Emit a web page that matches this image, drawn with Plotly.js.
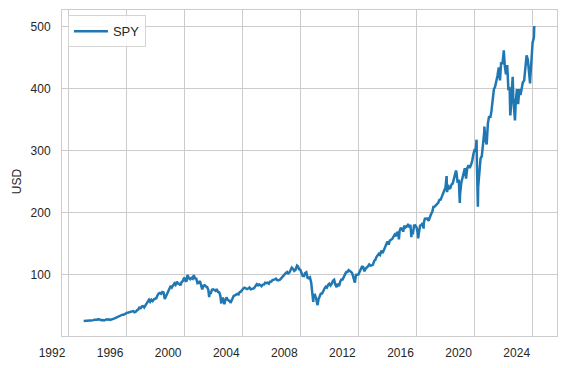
<!DOCTYPE html>
<html>
<head>
<meta charset="utf-8">
<script src="https://cdn.plot.ly/plotly-3.0.1.min.js"></script>
<style>html,body{margin:0;padding:0;background:#fff;}#chart{width:566px;height:368px;}</style>
</head>
<body>
<div id="chart"></div>
<script>
// SPY adjusted close (USD) (month-end values plus notable highs/lows)
const dates = [
"1993-01-29","1993-02-26","1993-03-31","1993-04-30","1993-05-28","1993-06-30","1993-07-30","1993-08-31","1993-09-30","1993-10-29","1993-11-30","1993-12-31",
"1994-01-31","1994-02-28","1994-03-31","1994-04-29","1994-05-31","1994-06-30","1994-07-29","1994-08-31","1994-09-30","1994-10-31","1994-11-30","1994-12-30",
"1995-01-31","1995-02-28","1995-03-31","1995-04-28","1995-05-31","1995-06-30","1995-07-31","1995-08-31","1995-09-29","1995-10-31","1995-11-30","1995-12-29",
"1996-01-31","1996-02-29","1996-03-29","1996-04-30","1996-05-31","1996-06-28","1996-07-31","1996-08-30","1996-09-30","1996-10-31","1996-11-29","1996-12-31",
"1997-01-31","1997-02-28","1997-03-31","1997-04-30","1997-05-30","1997-06-30","1997-07-31","1997-08-29","1997-09-30","1997-10-31","1997-11-28","1997-12-31",
"1998-01-30","1998-02-27","1998-03-31","1998-04-30","1998-05-29","1998-06-30","1998-07-31","1998-08-31","1998-09-30","1998-10-30","1998-11-30","1998-12-31",
"1999-01-29","1999-02-26","1999-03-31","1999-04-30","1999-05-28","1999-06-30","1999-07-30","1999-08-31","1999-09-30","1999-10-29","1999-11-30","1999-12-31",
"2000-01-31","2000-02-29","2000-03-24","2000-03-31","2000-04-28","2000-05-31","2000-06-30","2000-07-31","2000-08-31","2000-09-29","2000-10-31","2000-11-30","2000-12-29",
"2001-01-31","2001-02-28","2001-03-30","2001-04-30","2001-05-31","2001-06-29","2001-07-31","2001-08-31","2001-09-21","2001-09-28","2001-10-31","2001-11-30","2001-12-31",
"2002-01-31","2002-02-28","2002-03-28","2002-04-30","2002-05-31","2002-06-28","2002-07-23","2002-07-31","2002-08-30","2002-09-30","2002-10-09","2002-10-31","2002-11-29","2002-12-31",
"2003-01-31","2003-02-28","2003-03-11","2003-03-31","2003-04-30","2003-05-30","2003-06-30","2003-07-31","2003-08-29","2003-09-30","2003-10-31","2003-11-28","2003-12-31",
"2004-01-30","2004-02-27","2004-03-31","2004-04-30","2004-05-28","2004-06-30","2004-07-30","2004-08-31","2004-09-30","2004-10-29","2004-11-30","2004-12-31",
"2005-01-31","2005-02-28","2005-03-31","2005-04-29","2005-05-31","2005-06-30","2005-07-29","2005-08-31","2005-09-30","2005-10-31","2005-11-30","2005-12-30",
"2006-01-31","2006-02-28","2006-03-31","2006-04-28","2006-05-31","2006-06-30","2006-07-31","2006-08-31","2006-09-29","2006-10-31","2006-11-30","2006-12-29",
"2007-01-31","2007-02-28","2007-03-30","2007-04-30","2007-05-31","2007-06-29","2007-07-31","2007-08-31","2007-09-28","2007-10-09","2007-10-31","2007-11-30","2007-12-31",
"2008-01-31","2008-02-29","2008-03-31","2008-04-30","2008-05-30","2008-06-30","2008-07-31","2008-08-29","2008-09-30","2008-10-27","2008-10-31","2008-11-20","2008-11-28","2008-12-31",
"2009-01-30","2009-02-27","2009-03-09","2009-03-31","2009-04-30","2009-05-29","2009-06-30","2009-07-31","2009-08-31","2009-09-30","2009-10-30","2009-11-30","2009-12-31",
"2010-01-29","2010-02-26","2010-03-31","2010-04-30","2010-05-28","2010-06-30","2010-07-30","2010-08-31","2010-09-30","2010-10-29","2010-11-30","2010-12-31",
"2011-01-31","2011-02-28","2011-03-31","2011-04-29","2011-05-31","2011-06-30","2011-07-29","2011-08-31","2011-09-30","2011-10-03","2011-10-31","2011-11-30","2011-12-30",
"2012-01-31","2012-02-29","2012-03-30","2012-04-30","2012-05-31","2012-06-29","2012-07-31","2012-08-31","2012-09-28","2012-10-31","2012-11-30","2012-12-31",
"2013-01-31","2013-02-28","2013-03-28","2013-04-30","2013-05-31","2013-06-28","2013-07-31","2013-08-30","2013-09-30","2013-10-31","2013-11-29","2013-12-31",
"2014-01-31","2014-02-28","2014-03-31","2014-04-30","2014-05-30","2014-06-30","2014-07-31","2014-08-29","2014-09-30","2014-10-15","2014-10-31","2014-11-28","2014-12-31",
"2015-01-30","2015-02-27","2015-03-31","2015-04-30","2015-05-29","2015-06-30","2015-07-31","2015-08-25","2015-08-31","2015-09-30","2015-10-30","2015-11-30","2015-12-31",
"2016-01-29","2016-02-11","2016-02-29","2016-03-31","2016-04-29","2016-05-31","2016-06-27","2016-06-30","2016-07-29","2016-08-31","2016-09-30","2016-10-31","2016-11-30","2016-12-30",
"2017-01-31","2017-02-28","2017-03-31","2017-04-28","2017-05-31","2017-06-30","2017-07-31","2017-08-31","2017-09-29","2017-10-31","2017-11-30","2017-12-29",
"2018-01-26","2018-01-31","2018-02-08","2018-02-28","2018-03-29","2018-04-30","2018-05-31","2018-06-29","2018-07-31","2018-08-31","2018-09-20","2018-09-28","2018-10-31","2018-11-30","2018-12-24","2018-12-31",
"2019-01-31","2019-02-28","2019-03-29","2019-04-30","2019-05-31","2019-06-28","2019-07-31","2019-08-30","2019-09-30","2019-10-31","2019-11-29","2019-12-31",
"2020-01-31","2020-02-19","2020-02-28","2020-03-23","2020-03-31","2020-04-30","2020-05-29","2020-06-30","2020-07-31","2020-08-31","2020-09-02","2020-09-30","2020-10-30","2020-11-30","2020-12-31",
"2021-01-29","2021-02-26","2021-03-31","2021-04-30","2021-05-28","2021-06-30","2021-07-30","2021-08-31","2021-09-30","2021-10-29","2021-11-30","2021-12-31",
"2022-01-03","2022-01-31","2022-02-28","2022-03-31","2022-04-29","2022-05-31","2022-06-16","2022-06-30","2022-07-29","2022-08-16","2022-08-31","2022-09-30","2022-10-12","2022-10-31","2022-11-30","2022-12-30",
"2023-01-31","2023-02-28","2023-03-31","2023-04-28","2023-05-31","2023-06-30","2023-07-31","2023-08-31","2023-09-29","2023-10-27","2023-10-31","2023-11-30","2023-12-29",
"2024-01-31","2024-02-09"
];
const spy = [
25.7,26.0,26.6,25.9,26.6,26.6,26.5,27.5,27.3,27.8,27.5,27.9,
28.8,28.0,26.8,27.1,27.5,26.8,27.6,28.7,28.0,28.6,27.5,27.9,
28.7,29.7,30.6,31.5,32.6,33.4,34.5,34.6,36.0,35.8,37.4,38.1,
39.4,39.7,40.1,40.6,41.6,41.8,39.9,40.7,43.0,44.1,47.4,46.4,
49.4,49.7,47.6,50.5,53.5,55.9,60.3,56.9,60.1,58.0,60.7,61.7,
62.5,66.8,70.3,71.0,69.7,72.6,71.8,61.4,65.3,70.7,74.8,79.2,
82.5,79.9,83.1,86.4,84.2,89.0,86.2,85.7,83.4,88.7,90.4,95.8,
91.1,89.2,99.9,98.0,95.1,93.1,95.4,94.0,99.7,94.5,94.2,86.7,87.1,
90.3,82.1,76.9,82.8,83.4,81.4,80.7,75.6,64.5,69.5,70.8,76.2,76.9,
75.8,74.4,77.2,72.6,72.0,66.9,54.0,61.7,62.1,55.4,52.8,60.2,63.8,60.0,
58.4,57.5,54.9,58.1,62.9,66.2,67.1,68.1,69.5,68.7,72.6,73.2,77.1,
78.5,79.6,78.4,77.2,78.2,79.7,77.0,77.3,78.1,79.3,82.5,85.3,
83.3,85.0,83.5,81.9,84.5,84.6,87.6,86.8,87.5,86.1,89.2,89.3,
91.7,91.8,93.0,94.2,91.5,91.6,92.1,94.1,96.6,99.8,101.5,103.0,
104.7,102.6,103.7,108.4,112.0,110.1,106.7,108.2,112.2,115.2,114.0,109.2,108.4,
101.9,98.5,98.1,103.0,104.3,95.5,94.7,96.1,87.5,63.8,72.9,56.7,67.5,68.1,
62.4,55.7,51.4,60.6,66.3,70.0,70.1,75.5,78.2,81.1,79.7,84.4,86.0,
83.0,85.5,90.6,92.2,84.8,80.3,85.9,82.0,89.2,92.8,92.7,98.9,
101.3,104.7,104.7,108.0,106.7,104.9,102.7,97.0,90.2,87.8,100.1,99.8,100.7,
105.4,109.8,113.4,112.8,105.9,110.2,111.7,114.2,117.1,115.0,115.4,116.5,
122.7,124.2,128.8,131.5,134.4,132.5,139.2,135.2,139.4,145.8,150.1,154.0,
148.9,155.5,156.7,158.1,161.6,164.9,162.6,169.1,166.7,157.5,170.7,175.1,174.8,
169.8,179.3,176.6,178.3,180.6,177.0,180.9,160.8,169.8,165.5,179.7,180.0,177.0,
168.4,158.9,167.9,179.4,180.1,183.3,174.7,183.7,190.6,190.6,190.8,187.3,194.2,197.9,
201.9,209.7,210.0,212.2,215.1,216.4,221.1,221.5,226.2,231.5,238.3,240.9,
259.4,255.0,233.3,245.3,239.3,240.2,245.9,247.4,256.9,264.9,268.1,266.6,248.4,253.4,216.1,230.4,
248.6,256.9,261.0,272.0,255.2,271.9,276.6,272.3,276.9,283.3,294.2,301.6,
302.1,318.0,278.5,209.8,242.5,273.9,287.3,291.4,308.9,330.8,339.1,317.8,310.2,344.3,355.9,
353.1,363.2,378.9,399.4,402.8,410.9,421.4,434.4,413.3,442.7,439.6,458.8,
462.0,435.5,423.1,438.1,400.5,401.8,357.1,367.4,401.7,419.4,385.7,349.3,349.1,378.1,399.5,375.2,
399.6,389.9,403.7,410.5,413.3,438.9,453.7,447.2,424.9,408.6,416.1,455.0,474.4,
482.4,501.0
];
const seriesName = "SPY";
const xTickVals = ["1992-01-01","1996-01-01","2000-01-01","2004-01-01","2008-01-01","2012-01-01","2016-01-01","2020-01-01","2024-01-01"];
const xTickText = ["1992","1996","2000","2004","2008","2012","2016","2020","2024"];
const yTickVals = [100,200,300,400,500];
const yTickText = ["100","200","300","400","500"];
const yTitle = "USD";

const trace = {
  x: dates, y: spy, type: "scatter", mode: "lines", name: seriesName,
  line: {color: "#1f77b4", width: 2.5}
};

const layout = {
  width: 566, height: 368,
  margin: {l: 62, r: 9, t: 10, b: 32, pad: 0},
  paper_bgcolor: "#ffffff", plot_bgcolor: "#ffffff",
  font: {family: "Liberation Sans, Arial, sans-serif", size: 12, color: "#262626"},
  showlegend: true,
  legend: {
    x: 0.012, y: 0.984, xanchor: "left", yanchor: "top",
    bgcolor: "rgba(255,255,255,0.85)", bordercolor: "#d4d4d4", borderwidth: 1,
    itemwidth: 34,
    font: {size: 13, color: "#262626"}
  },
  xaxis: {
    type: "date", range: ["1991-08-03", "2025-09-03"],
    tickmode: "array", tickvals: xTickVals, ticktext: xTickText,
    showgrid: true, gridcolor: "#cccccc", gridwidth: 1,
    showline: true, linecolor: "#cccccc", linewidth: 1, mirror: true,
    zeroline: false, ticks: "", ticklabelshift: -16, ticklabelstandoff: 6
  },
  yaxis: {
    range: [1.7, 526.9],
    tickmode: "array", tickvals: yTickVals, ticktext: yTickText,
    showgrid: true, gridcolor: "#cccccc", gridwidth: 1,
    showline: true, linecolor: "#cccccc", linewidth: 1, mirror: true,
    zeroline: false, ticks: "", ticklabelstandoff: 8
  },
  annotations: [{
    text: yTitle, textangle: -90, showarrow: false,
    xref: "paper", yref: "paper", x: -0.0909, y: 0.475,
    xanchor: "center", yanchor: "middle",
    font: {size: 12, color: "#262626"}
  }]
};

Plotly.newPlot("chart", [trace], layout, {staticPlot: true, displayModeBar: false});
</script>
</body>
</html>
